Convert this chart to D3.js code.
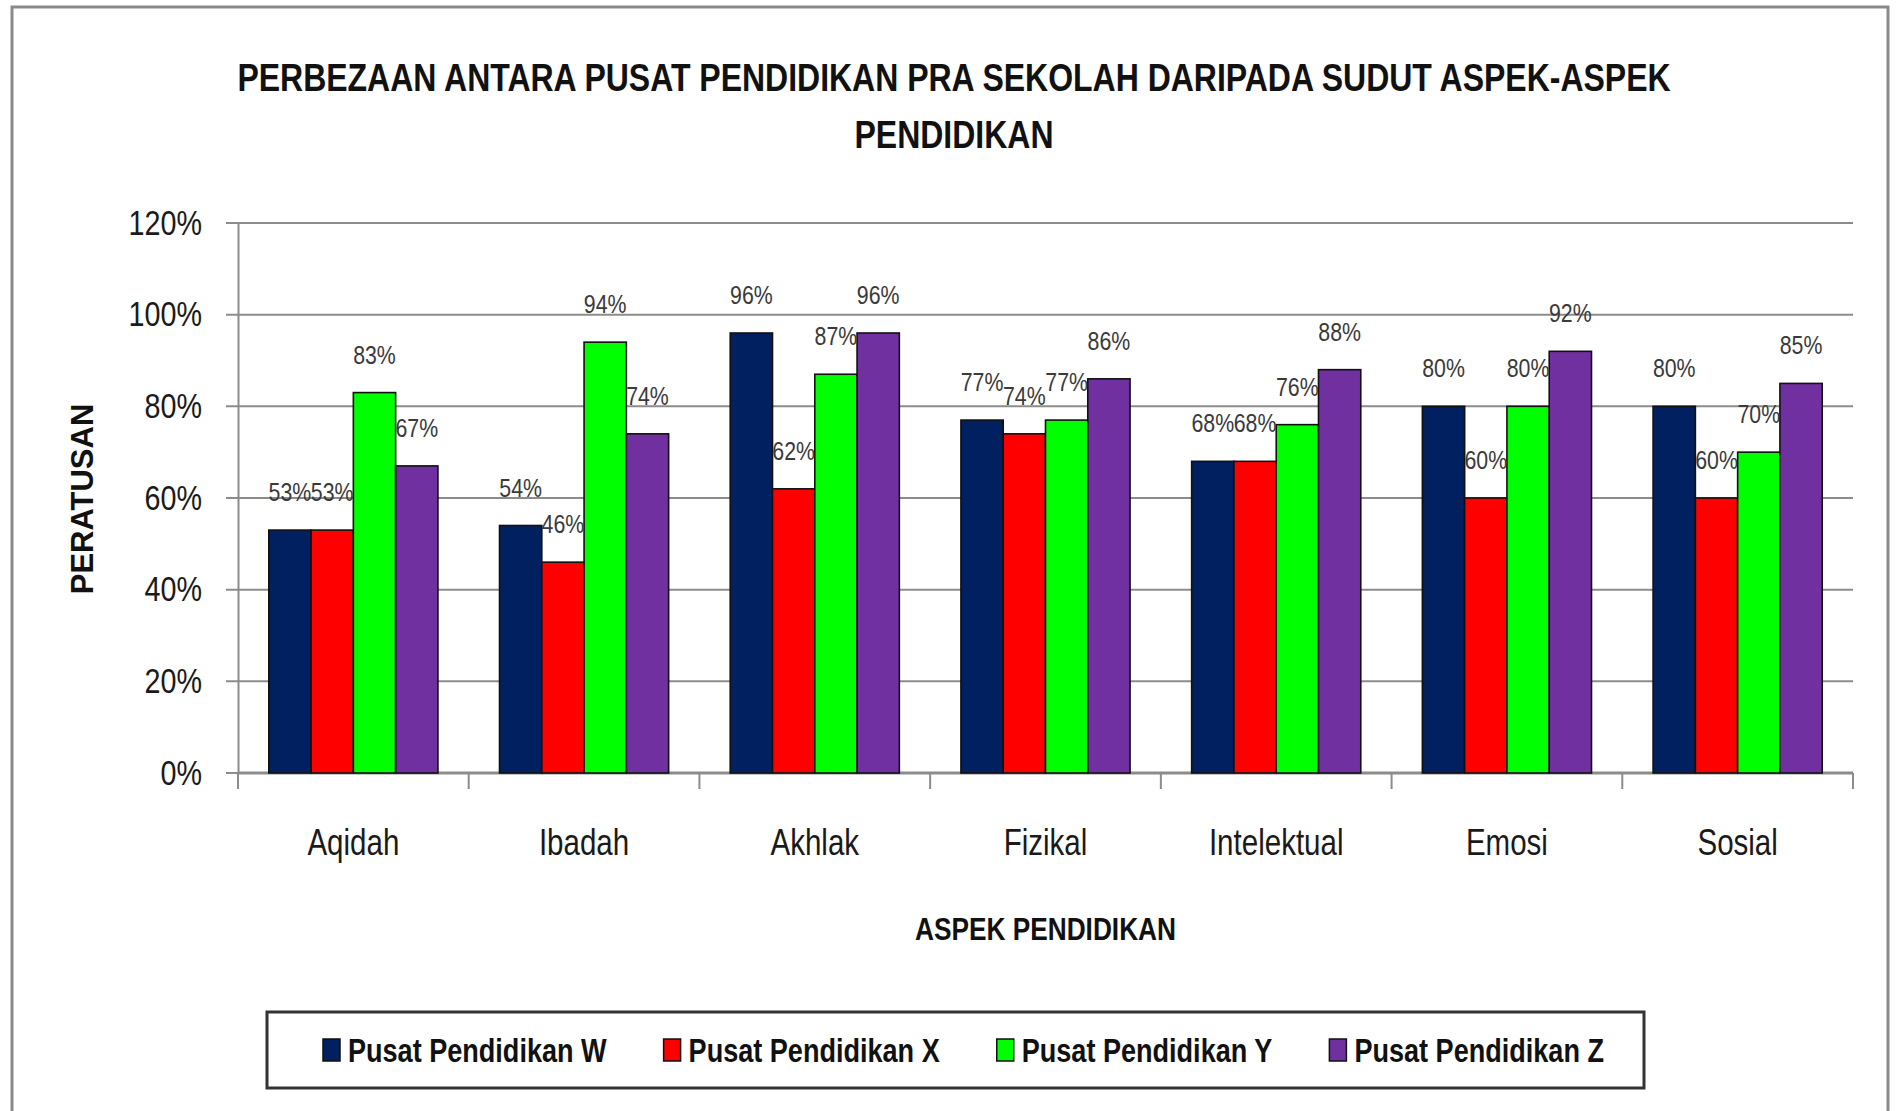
<!DOCTYPE html>
<html>
<head>
<meta charset="utf-8">
<script src="https://cdn.jsdelivr.net/npm/d3@7"></script>
<style>
  html, body { margin: 0; padding: 0; background: #ffffff; }
  svg { display: block; }
  text { font-family: "Liberation Sans", Arial, sans-serif; }
</style>
</head>
<body>
<svg id="chart" width="1902" height="1111"></svg>
<script>
const categories = ["Aqidah", "Ibadah", "Akhlak", "Fizikal", "Intelektual", "Emosi", "Sosial"];
const seriesNames = ["Pusat Pendidikan W", "Pusat Pendidikan X", "Pusat Pendidikan Y", "Pusat Pendidikan Z"];
const valuesW = [53, 54, 96, 77, 68, 80, 80];
const valuesX = [53, 46, 62, 74, 68, 60, 60];
const valuesY = [83, 94, 87, 77, 76, 80, 70];
const valuesZ = [67, 74, 96, 86, 88, 92, 85];
const seriesColors = ["#002060", "#ff0000", "#00ff00", "#7030a0"];
const yTicks = [0, 20, 40, 60, 80, 100, 120];
const titleLines = ["PERBEZAAN ANTARA PUSAT PENDIDIKAN PRA SEKOLAH DARIPADA SUDUT ASPEK-ASPEK", "PENDIDIKAN"];
const yTitle = "PERATUSAN";
const xTitle = "ASPEK PENDIDIKAN";

const seriesValues = [valuesW, valuesX, valuesY, valuesZ];

// narrow text: compress glyphs horizontally (Calibri-like look)
function squeeze(sel, k) {
  sel.each(function () {
    const L = this.getComputedTextLength();
    this.setAttribute("textLength", (L * k).toFixed(1));
    this.setAttribute("lengthAdjust", "spacingAndGlyphs");
  });
}

const svg = d3.select("#chart");
const plot = { left: 238, right: 1853, top: 223, bottom: 773 };

// outer chart border
svg.append("rect")
  .attr("x", 12).attr("y", 7).attr("width", 1876).attr("height", 1200)
  .attr("fill", "#ffffff").attr("stroke", "#8a8a8a").attr("stroke-width", 3);

const x0 = d3.scaleBand().domain(categories).range([plot.left, plot.right])
  .paddingInner(0.267).paddingOuter(0.1335);
const x1 = d3.scaleBand().domain(seriesNames).range([0, x0.bandwidth()]);
const y = d3.scaleLinear().domain([0, 120]).range([plot.bottom, plot.top]);

// gridlines
svg.append("g").selectAll("line").data(yTicks).join("line")
  .attr("x1", plot.left - 12).attr("x2", plot.right)
  .attr("y1", d => y(d)).attr("y2", d => y(d))
  .attr("stroke", "#8c8c8c").attr("stroke-width", 2);

// y axis
const yAxis = d3.axisLeft(y).tickValues(yTicks).tickFormat(d => d + "%").tickSize(0).tickPadding(36);
const gy = svg.append("g").attr("transform", `translate(${plot.left},0)`).call(yAxis);
gy.select(".domain").attr("stroke", "#8c8c8c").attr("stroke-width", 2);
gy.selectAll("text").attr("font-size", 35).attr("fill", "#1a1a1a")
  .style("font-family", '"Liberation Sans", Arial, sans-serif');
squeeze(gy.selectAll("text"), 0.82);

// x axis ticks at boundaries
const boundaries = categories.map(c => x0(c) - x0.step() * x0.paddingOuter()).concat([plot.right]);
svg.append("g").selectAll("line").data(boundaries).join("line")
  .attr("x1", d => d).attr("x2", d => d).attr("y1", plot.bottom).attr("y2", plot.bottom + 16)
  .attr("stroke", "#8c8c8c").attr("stroke-width", 2);
svg.append("line").attr("x1", plot.left).attr("x2", plot.right)
  .attr("y1", plot.bottom).attr("y2", plot.bottom)
  .attr("stroke", "#8c8c8c").attr("stroke-width", 3);

// category labels
const catLabels = svg.append("g").selectAll("text").data(categories).join("text")
  .attr("x", d => x0(d) + x0.bandwidth() / 2).attr("y", 855)
  .attr("text-anchor", "middle").attr("font-size", 36).attr("fill", "#1a1a1a")
  .text(d => d);
squeeze(catLabels, 0.82);

// bars
const groups = svg.append("g").selectAll("g").data(categories).join("g")
  .attr("transform", d => `translate(${x0(d)},0)`);
groups.selectAll("rect").data((c, i) => seriesNames.map((s, j) => ({ s, j, v: seriesValues[j][i] })))
  .join("rect")
  .attr("x", d => x1(d.s)).attr("width", x1.bandwidth())
  .attr("y", d => y(d.v)).attr("height", d => y(0) - y(d.v))
  .attr("fill", d => seriesColors[d.j]).attr("stroke", "#111").attr("stroke-width", 1.6);

// data labels
const dataLabels = groups.selectAll("text").data((c, i) => seriesNames.map((s, j) => ({ s, j, v: seriesValues[j][i] })))
  .join("text")
  .attr("x", d => x1(d.s) + x1.bandwidth() / 2).attr("y", d => y(d.v) - 29)
  .attr("text-anchor", "middle").attr("font-size", 26).attr("fill", "#3a3a3a")
  .text(d => d.v + "%");
squeeze(dataLabels, 0.82);

// title
const titles = svg.append("g").selectAll("text").data(titleLines).join("text")
  .attr("x", 954).attr("y", (d, i) => 91 + i * 57)
  .attr("text-anchor", "middle").attr("font-size", 39).attr("font-weight", "bold").attr("fill", "#111")
  .text(d => d);
squeeze(titles, 0.82);

// axis titles
svg.append("text").attr("transform", "translate(93,499) rotate(-90)")
  .attr("text-anchor", "middle").attr("font-size", 31).attr("font-weight", "bold").attr("fill", "#111")
  .text(yTitle);
const xt = svg.append("text").attr("x", (plot.left + plot.right) / 2).attr("y", 940)
  .attr("text-anchor", "middle").attr("font-size", 32).attr("font-weight", "bold").attr("fill", "#111")
  .text(xTitle);
squeeze(xt, 0.82);

// legend
const legend = svg.append("g");
legend.append("rect").attr("x", 267).attr("y", 1012).attr("width", 1377).attr("height", 76)
  .attr("fill", "#fff").attr("stroke", "#333").attr("stroke-width", 3);
let lx = 323;
seriesNames.forEach((name, j) => {
  legend.append("rect").attr("x", lx).attr("y", 1039).attr("width", 17).attr("height", 22)
    .attr("fill", seriesColors[j]).attr("stroke", "#111").attr("stroke-width", 1.5);
  const t = legend.append("text").attr("x", lx + 25).attr("y", 1062)
    .attr("font-size", 33).attr("font-weight", "bold").attr("fill", "#111").text(name);
  const L = t.node().getComputedTextLength() * 0.82;
  t.attr("textLength", L.toFixed(1)).attr("lengthAdjust", "spacingAndGlyphs");
  lx += 25 + L + 57;
});
</script>
</body>
</html>
